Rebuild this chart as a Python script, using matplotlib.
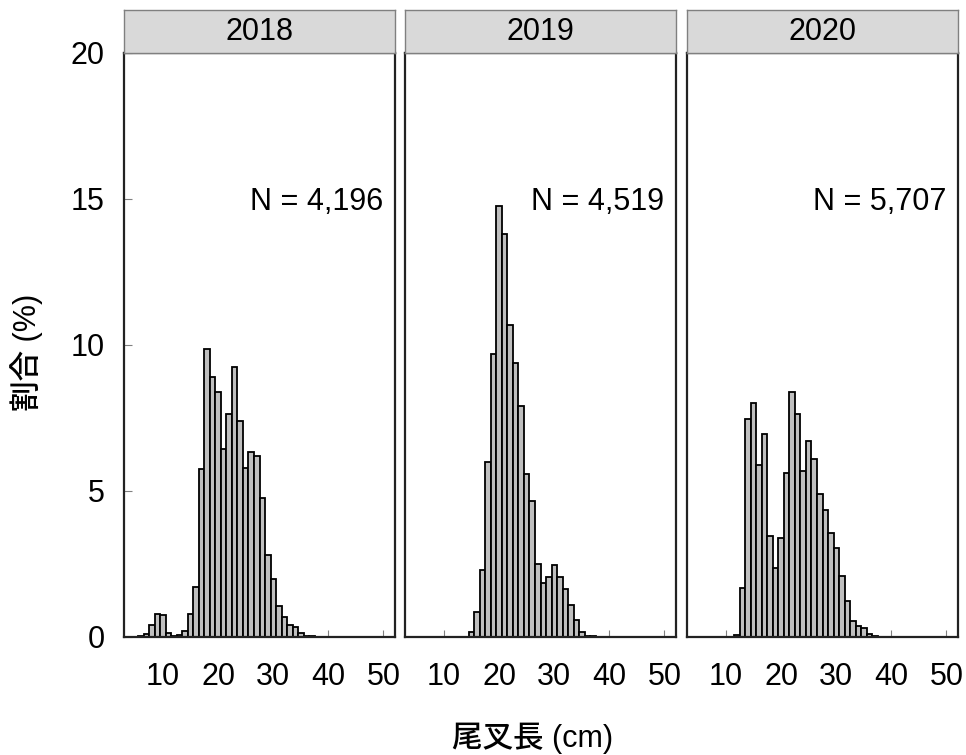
import matplotlib
matplotlib.use("Agg")
import matplotlib.pyplot as plt

plt.rcParams['font.family'] = ['Liberation Sans', 'Noto Sans CJK JP', 'DejaVu Sans']

years = ["2018", "2019", "2020"]
n_labels = ["N = 4,196", "N = 4,519", "N = 5,707"]

len_2018 = list(range(6, 39))
pct_2018 = [0.03, 0.1, 0.42, 0.8, 0.76, 0.13, 0.04, 0.07, 0.2, 0.78, 1.7, 5.75,
            9.85, 8.9, 8.4, 6.45, 7.65, 9.25, 7.4, 5.8, 6.35, 6.2, 4.75, 2.8,
            2.0, 1.05, 0.7, 0.4, 0.33, 0.12, 0.03, 0.02, 0.01]

len_2019 = list(range(15, 38))
pct_2019 = [0.17, 0.84, 2.3, 6.0, 9.7, 14.75, 13.8, 10.7, 9.4, 7.9, 5.57, 4.65,
            2.5, 1.85, 2.05, 2.45, 2.05, 1.65, 1.1, 0.57, 0.17, 0.05, 0.02]

len_2020 = list(range(12, 39))
pct_2020 = [0.06, 1.67, 7.45, 8.0, 5.9, 6.95, 3.47, 2.35, 3.4, 5.63, 8.38, 7.62,
            5.7, 6.7, 6.1, 4.9, 4.35, 3.55, 3.05, 2.1, 1.22, 0.55, 0.39, 0.32,
            0.09, 0.02, 0.01]

x_ticks = [10, 20, 30, 40, 50]
y_ticks = [0, 5, 10, 15, 20]

lengths = [len_2018, len_2019, len_2020]
pcts = [pct_2018, pct_2019, pct_2020]

W, H = 966, 755
fig = plt.figure(figsize=(W / 100, H / 100), dpi=100)

lefts = [124, 405, 687]
pw = 271
top_px, bot_px = 53, 637
strip_top = 10
fs = 22

for i in range(3):
    ax = fig.add_axes([lefts[i] / W, 1 - bot_px / H, pw / W, (bot_px - top_px) / H])
    ax.bar(lengths[i], pcts[i], width=1.0, align='center', color='#bfbfbf',
           edgecolor='#000000', linewidth=1.3, zorder=2)
    ax.set_xlim(2.9, 52.1)
    ax.set_ylim(0, 20)
    ax.set_xticks(x_ticks)
    ax.set_xticklabels([str(t) for t in x_ticks])
    ax.set_yticks(y_ticks)
    if i == 0:
        ax.set_yticklabels([str(t) for t in y_ticks])
    else:
        ax.set_yticklabels([])
        ax.tick_params(axis='y', length=0)
    ax.tick_params(axis='both', direction='in', color='#808080', width=0.8,
                   labelsize=fs, labelcolor='black')
    ax.tick_params(axis='x', length=5, pad=18)
    if i == 0:
        ax.tick_params(axis='y', length=6, pad=14)
    for sp in ax.spines.values():
        sp.set_color('#222222')
        sp.set_linewidth(1.6)
    ax.text(0.957, 14.9, n_labels[i], transform=ax.get_yaxis_transform(),
            ha='right', va='center', fontsize=fs)

    sax = fig.add_axes([lefts[i] / W, 1 - top_px / H, pw / W, (top_px - strip_top) / H])
    sax.set_facecolor('#d9d9d9')
    sax.set_xticks([])
    sax.set_yticks([])
    for sp in sax.spines.values():
        sp.set_color('#808080')
        sp.set_linewidth(1.0)
    sax.text(0.5, 0.5, years[i], transform=sax.transAxes, ha='center',
             va='center', fontsize=fs)

fig.text(27 / W, 1 - 352 / H, "割合 (%)", rotation=90, ha='center', va='center',
         fontsize=fs, fontweight='medium')
fig.text(533 / W, 1 - 738 / H, "尾叉長 (cm)", ha='center', va='center',
         fontsize=fs, fontweight='medium')

fig.savefig("out.png", dpi=100)
